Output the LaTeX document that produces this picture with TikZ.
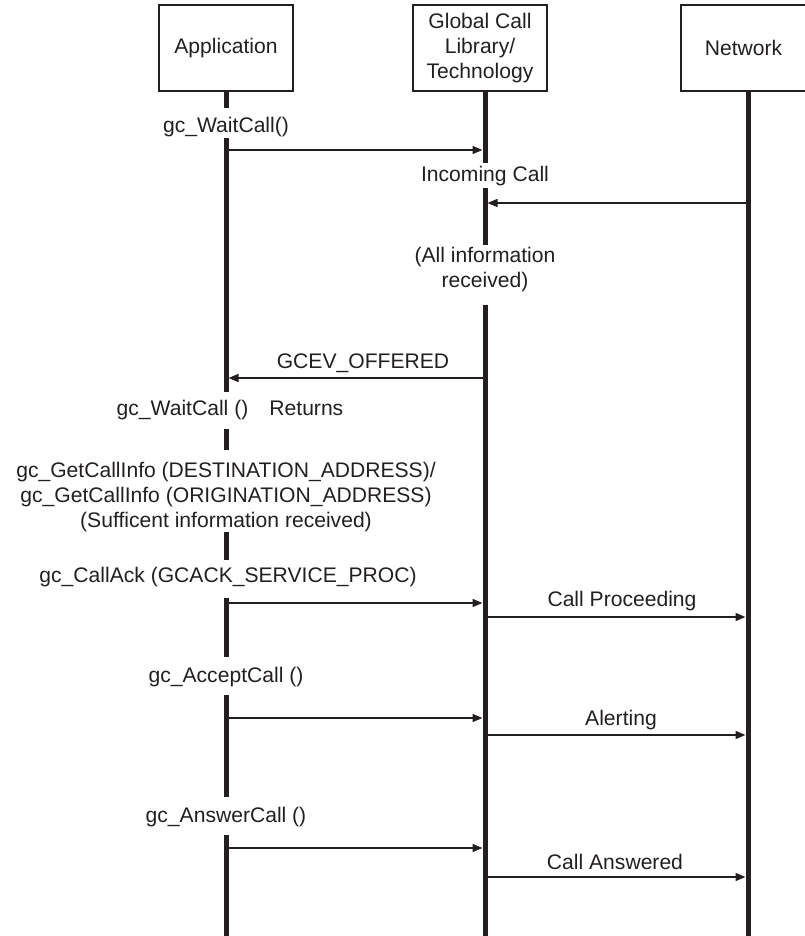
\documentclass[tikz,border=0pt]{standalone}
\usepackage{fontspec}
\setmainfont{Liberation Sans}
\usetikzlibrary{arrows.meta}
\definecolor{nero}{HTML}{231F20}
\begin{document}
\begin{tikzpicture}[x=0.5pt, y=-0.5pt,
		>={Triangle[length=5pt, width=4pt]},
		font=\fontsize{10.55}{12.5}\selectfont, color=nero,
		blocco/.style={draw=nero, line width=1pt, align=center,
			minimum width=67pt, minimum height=43pt, inner sep=0pt},
		vita/.style={line width=2.5pt, nero},
		msg/.style={->, line width=0.8pt, nero, shorten >=1.25pt},
		etich/.style={inner sep=0pt, align=center}]
	\def\xA{226}
	\def\xG{485}
	\def\xN{748}
	\useasboundingbox (0,0) rectangle (804,936);
	
	%% blocchi in testa
	\node[blocco] (app) at (226,48) {Application};
	\node[blocco] (gcl) at (480,48) {Global Call\\Library/\\Technology};
	\node[blocco, minimum width=62.5pt] (net) at (743.5,48) {Network};
	
	%% linee di vita (interrotte dove c'e' testo)
	\foreach \ya/\yb in {91/108, 138/392, 429/450, 532/560, 598/657, 695/797, 835/936}
		\draw[vita] (\xA,\ya) -- (\xA,\yb);
	\foreach \ya/\yb in {91/163, 188/245, 305/936}
		\draw[vita] (\xG,\ya) -- (\xG,\yb);
	\draw[vita] (\xN,91) -- (\xN,936);
	
	%% etichette
	\node[etich] (tWait) at (\xA,127) {gc\_WaitCall()};
	\node[etich] (tInc) at (\xG,176) {Incoming Call};
	\node[etich] (tAll) at (\xG,270) {(All information\\received)};
	\node[etich] (tOff) at (363,363) {GCEV\_OFFERED};
	\node[etich] (tRet) at (230,410) {gc\_WaitCall ()\hspace{1em}Returns};
	\node[etich] (tInfo) at (\xA,497) {gc\_GetCallInfo (DESTINATION\_ADDRESS)/\\gc\_GetCallInfo (ORIGINATION\_ADDRESS)\\(Sufficent information received)};
	\node[etich] (tAck) at (228,577) {gc\_CallAck (GCACK\_SERVICE\_PROC)};
	\node[etich] (tProc) at (622,601) {Call Proceeding};
	\node[etich] (tAcc) at (\xA,677) {gc\_AcceptCall ()};
	\node[etich] (tAlert) at (621,720) {Alerting};
	\node[etich] (tAns) at (\xA,817) {gc\_AnswerCall ()};
	\node[etich] (tAnsd) at (615,862) {Call Answered};
	
	%% punti dei messaggi sulle linee di vita
	\coordinate (a1) at (\xA,150); \coordinate (g1) at (\xG,150);
	\coordinate (n2) at (\xN,203); \coordinate (g2) at (\xG,203);
	\coordinate (g3) at (\xG,378); \coordinate (a3) at (\xA,378);
	\coordinate (a4) at (\xA,603); \coordinate (g4) at (\xG,603);
	\coordinate (g5) at (\xG,617); \coordinate (n5) at (\xN,617);
	\coordinate (a6) at (\xA,718); \coordinate (g6) at (\xG,718);
	\coordinate (g7) at (\xG,735); \coordinate (n7) at (\xN,735);
	\coordinate (a8) at (\xA,848); \coordinate (g8) at (\xG,848);
	\coordinate (g9) at (\xG,877); \coordinate (n9) at (\xN,877);
	
	%% messaggi
	\draw[msg] (a1) -- (g1);
	\draw[msg] (n2) -- (g2);
	\draw[msg] (g3) -- (a3);
	\draw[msg] (a4) -- (g4);
	\draw[msg] (g5) -- (n5);
	\draw[msg] (a6) -- (g6);
	\draw[msg] (g7) -- (n7);
	\draw[msg] (a8) -- (g8);
	\draw[msg] (g9) -- (n9);
\end{tikzpicture}
\end{document}
